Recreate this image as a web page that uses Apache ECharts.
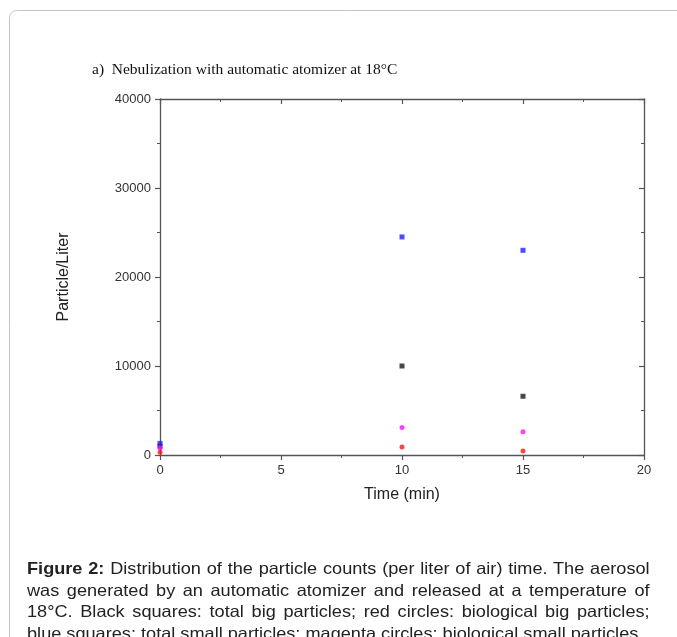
<!DOCTYPE html>
<html>
<head>
<meta charset="utf-8">
<script src="https://cdn.jsdelivr.net/npm/echarts@6/dist/echarts.min.js"></script>
<style>
html,body{margin:0;padding:0;background:#fff;}
#wrap{position:relative;width:677px;height:637px;overflow:hidden;}
#chart{position:absolute;left:0;top:0;width:677px;height:637px;}
#cap{position:absolute;left:27px;top:558px;width:566px;transform:scaleX(1.1);transform-origin:0 0;font-family:"Liberation Sans",Arial,sans-serif;font-size:16.5px;line-height:21.5px;color:#222;}
#cap div{text-align:justify;text-align-last:justify;white-space:nowrap;}
#cap div.last{text-align-last:left;}
</style>
</head>
<body>
<div id="wrap">
<div id="chart"></div>
<div id="cap">
<div><b>Figure 2:</b> Distribution of the particle counts (per liter of air) time. The aerosol</div>
<div>was generated by an automatic atomizer and released at a temperature of</div>
<div>18°C. Black squares: total big particles; red circles: biological big particles;</div>
<div class="last">blue squares: total small particles; magenta circles: biological small particles.</div>
</div>
</div>
<script>
const times = [0, 10, 15];
const totalBig = [1000, 10000, 6600];
const bioBig = [300, 900, 450];
const totalSmall = [1300, 24500, 23000];
const bioSmall = [800, 3100, 2600];
const xTicks = [0, 5, 10, 15, 20];
const yTicks = [0, 10000, 20000, 30000, 40000];

const chart = echarts.init(document.getElementById('chart'));
const pts = arr => times.map((t, i) => [t, arr[i]]);
const axisLine = {show: true, onZero: false, lineStyle: {color: '#555', width: 1.3}};
const labelFont = {fontFamily: 'Liberation Sans, Arial, sans-serif', fontSize: 13, color: '#333', formatter: v => String(v)};
const tickO = {show: true, inside: false, length: 5, lineStyle: {color: '#555', width: 1.2}};
const tickI = {show: true, inside: true, length: 5, lineStyle: {color: '#555', width: 1.2}};
const minorO = {show: true, splitNumber: 2, length: 3, lineStyle: {color: '#555', width: 1}};
const nameFont = {fontFamily: 'Liberation Sans, Arial, sans-serif', fontSize: 16, color: '#222'};
chart.setOption({
  animation: false,
  backgroundColor: '#fff',
  graphic: [
    {type: 'rect', shape: {x: 9.5, y: 10.5, width: 720, height: 700, r: 7}, style: {fill: 'none', stroke: '#c4c4c4', lineWidth: 1}},
    {type: 'text', left: 92, top: 62, style: {text: 'a)  Nebulization with automatic atomizer at 18°C', font: '15.5px "Liberation Serif", "Times New Roman", serif', fill: '#111'}}
  ],
  grid: {left: 160, right: 33, top: 99, bottom: 182},
  xAxis: [
    {type: 'value', position: 'bottom', min: xTicks[0], max: xTicks[xTicks.length - 1], interval: 5,
     axisLine: axisLine, splitLine: {show: false}, axisTick: tickO, minorTick: minorO,
     axisLabel: Object.assign({margin: 9}, labelFont),
     name: 'Time (min)', nameLocation: 'middle', nameGap: 32, nameTextStyle: nameFont},
    {type: 'value', position: 'top', min: xTicks[0], max: xTicks[xTicks.length - 1], interval: 5,
     axisLine: axisLine, splitLine: {show: false}, axisTick: tickI,
     minorTick: Object.assign({}, minorO), axisLabel: {show: false}}
  ],
  yAxis: [
    {type: 'value', position: 'left', min: yTicks[0], max: yTicks[yTicks.length - 1], interval: 10000,
     axisLine: axisLine, splitLine: {show: false}, axisTick: tickO, minorTick: minorO,
     axisLabel: Object.assign({margin: 9}, labelFont),
     name: 'Particle/Liter', nameLocation: 'middle', nameGap: 88, nameRotate: 90, nameTextStyle: nameFont},
    {type: 'value', position: 'right', min: yTicks[0], max: yTicks[yTicks.length - 1], interval: 10000,
     axisLine: axisLine, splitLine: {show: false}, axisTick: tickI,
     minorTick: Object.assign({}, minorO), axisLabel: {show: false}}
  ],
  series: [
    {name: 'Total big', type: 'scatter', symbol: 'rect', symbolSize: 5, data: pts(totalBig), itemStyle: {color: '#1a1a1a'}},
    {name: 'Total small', type: 'scatter', symbol: 'rect', symbolSize: 5, data: pts(totalSmall), itemStyle: {color: '#1f1fff'}},
    {name: 'Bio small', type: 'scatter', symbol: 'circle', symbolSize: 5, data: pts(bioSmall), itemStyle: {color: '#ff10ff'}},
    {name: 'Bio big', type: 'scatter', symbol: 'circle', symbolSize: 5, data: pts(bioBig), itemStyle: {color: '#ff1515'}}
  ]
});
</script>
</body>
</html>
